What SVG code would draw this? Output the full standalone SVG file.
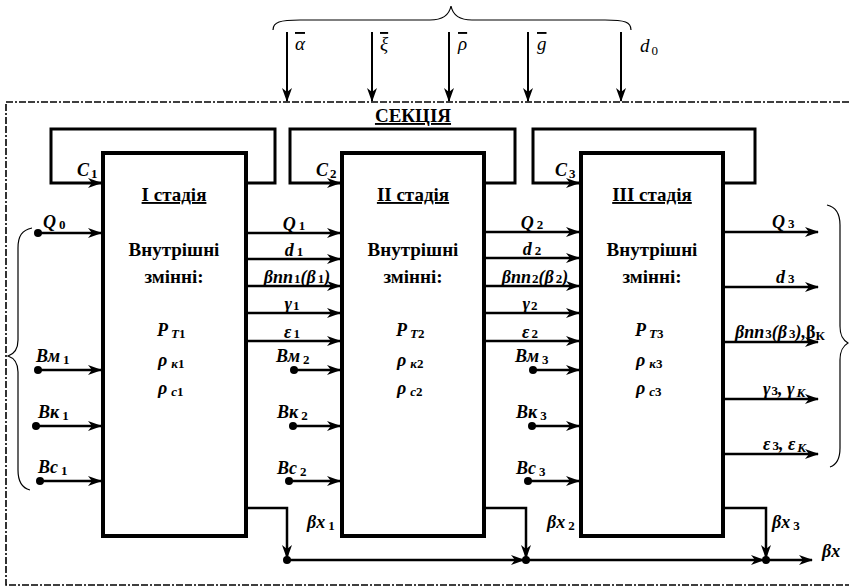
<svg xmlns="http://www.w3.org/2000/svg" width="849" height="587" viewBox="0 0 849 587" font-family="'Liberation Serif', 'DejaVu Serif', serif">
<style>
.b{font-family:'Liberation Serif','DejaVu Serif',serif;font-weight:bold;font-size:19px}
.bi{font-family:'Liberation Serif','DejaVu Serif',serif;font-weight:bold;font-style:italic;font-size:18px}
.it{font-family:'Liberation Serif','DejaVu Serif',serif;font-style:italic;font-size:19px}
.u{text-decoration:underline}
.ov{text-decoration:overline}
.s{font-size:13px}
.n{font-style:normal}
.box{fill:#fff;stroke:#000;stroke-width:4}
.ln{fill:none;stroke:#000;stroke-width:2.5}
.lp{fill:none;stroke:#000;stroke-width:3}
.thin{fill:none;stroke:#000;stroke-width:1.2}
.ar{fill:none;stroke:#000;stroke-width:2.5;marker-end:url(#ah)}
.ar2{fill:none;stroke:#000;stroke-width:2;marker-end:url(#ah)}
.dash{fill:none;stroke:#000;stroke-width:1.6;stroke-dasharray:7,2,7,2,2,2}
</style>
<defs>
<marker id="ah" viewBox="0 0 14 10" refX="13" refY="5" markerWidth="14" markerHeight="10" markerUnits="userSpaceOnUse" orient="auto"><path d="M0,0 L14,5 L0,10 L4,5 z" fill="#000"/></marker>
</defs>

<path class="dash" d="M849,102 H6 V585 H849"/>
<text class="b u" x="413" y="122" text-anchor="middle">СЕКЦІЯ</text>

<path class="thin" d="M273,30 C273,22 280,20 300,20 L430,20 C442,20 449,16 451,6 C453,16 460,20 472,20 L605,20 C625,20 631,22 631,30"/>

<g id="connectors">
  <line class="ar2" x1="287" y1="32" x2="287" y2="101"/>
  <line class="ar2" x1="372" y1="32" x2="372" y2="101"/>
  <line class="ar2" x1="449" y1="32" x2="449" y2="101"/>
  <line class="ar2" x1="528" y1="32" x2="528" y2="101"/>
  <line class="ar2" x1="621" y1="32" x2="621" y2="101"/>
  <path class="lp" d="M246,183 H275 V129 H51 V183 H101" marker-end="url(#ah)"/>
  <path class="lp" d="M484,183 H515 V129 H290 V183 H340" marker-end="url(#ah)"/>
  <path class="lp" d="M723,183 H755 V129 H533 V183 H579" marker-end="url(#ah)"/>
  <line class="ar" x1="38" y1="233" x2="101" y2="233"/>
  <line class="ar" x1="38" y1="370" x2="101" y2="370"/>
  <line class="ar" x1="36" y1="426" x2="101" y2="426"/>
  <line class="ar" x1="40" y1="481" x2="101" y2="481"/>
  <circle cx="38" cy="233" r="4"/>
  <circle cx="38" cy="370" r="4"/>
  <circle cx="36" cy="426" r="4"/>
  <circle cx="40" cy="481" r="4"/>
  <line class="ar" x1="246" y1="233" x2="340" y2="233"/>
  <line class="ar" x1="246" y1="259" x2="340" y2="259"/>
  <line class="ar" x1="246" y1="286" x2="340" y2="286"/>
  <line class="ar" x1="246" y1="313" x2="340" y2="313"/>
  <line class="ar" x1="246" y1="341" x2="340" y2="341"/>
  <line class="ar" x1="294" y1="370" x2="340" y2="370"/>
  <line class="ar" x1="293" y1="426" x2="340" y2="426"/>
  <line class="ar" x1="289" y1="481" x2="340" y2="481"/>
  <circle cx="294" cy="370" r="4"/>
  <circle cx="293" cy="426" r="4"/>
  <circle cx="289" cy="481" r="4"/>
  <line class="ar" x1="484" y1="232" x2="579" y2="232"/>
  <line class="ar" x1="484" y1="258" x2="579" y2="258"/>
  <line class="ar" x1="484" y1="286" x2="579" y2="286"/>
  <line class="ar" x1="484" y1="313" x2="579" y2="313"/>
  <line class="ar" x1="484" y1="341" x2="579" y2="341"/>
  <line class="ar" x1="533" y1="370" x2="579" y2="370"/>
  <line class="ar" x1="532" y1="426" x2="579" y2="426"/>
  <line class="ar" x1="528" y1="481" x2="579" y2="481"/>
  <circle cx="533" cy="370" r="4"/>
  <circle cx="532" cy="426" r="4"/>
  <circle cx="528" cy="481" r="4"/>
  <line class="ar" x1="723" y1="232" x2="818" y2="232"/>
  <line class="ar" x1="723" y1="287" x2="818" y2="287"/>
  <line class="ar" x1="723" y1="342" x2="818" y2="342"/>
  <line class="ar" x1="723" y1="399" x2="818" y2="399"/>
  <line class="ar" x1="723" y1="454" x2="818" y2="454"/>
  <path class="ln" d="M243,508 H287 V558" marker-end="url(#ah)"/>
  <path class="ln" d="M482,508 H526 V558" marker-end="url(#ah)"/>
  <path class="ln" d="M721,508 H766 V558" marker-end="url(#ah)"/>
  <line class="ar" x1="287" y1="560" x2="524" y2="560"/>
  <line class="ar" x1="526" y1="560" x2="764" y2="560"/>
  <line class="ar" x1="766" y1="560" x2="812" y2="560"/>
  <circle cx="287" cy="560" r="4"/>
  <circle cx="526" cy="560" r="4"/>
  <circle cx="766" cy="560" r="4"/>
  <path class="thin" d="M32,228 C22,230 18,236 18,248 L18,340 C18,350 14,354 8,356 C14,358 18,362 18,372 L18,470 C18,482 22,488 30,490"/>
  <path class="thin" d="M827,205 C836,207 840,213 840,225 L840,326 C840,336 843,340 848,343 C843,346 840,350 840,360 L840,448 C840,460 836,465 830,467"/>
</g>

<text class="it" x="295" y="50"><tspan class="ov">α</tspan></text>
<text class="it" x="380" y="50"><tspan class="ov">ξ</tspan></text>
<text class="it" x="458" y="50"><tspan class="ov">ρ</tspan></text>
<text class="it" x="537" y="50"><tspan class="ov">g</tspan></text>
<text class="it" x="640" y="52">d<tspan class="s n" dx="2" dy="3">0</tspan></text>

<g id="stage1">
  <rect class="box" x="103" y="153" width="143" height="383"/>
  <text class="b u" x="174" y="201" text-anchor="middle">І стадія</text>
  <text class="b" x="174" y="256" text-anchor="middle">Внутрішні</text>
  <text class="b" x="174" y="283" text-anchor="middle">змінні:</text>
  <text class="bi" x="157" y="336">P<tspan class="s" dx="3" dy="2">T</tspan><tspan class="s n">1</tspan></text>
  <text class="bi" x="158" y="366">ρ<tspan class="s" dx="4" dy="2">к</tspan><tspan class="s n">1</tspan></text>
  <text class="bi" x="158" y="394">ρ<tspan class="s" dx="4" dy="2">с</tspan><tspan class="s n">1</tspan></text>
</g>
<g id="stage2">
  <rect class="box" x="342" y="153" width="142" height="383"/>
  <text class="b u" x="413" y="201" text-anchor="middle">ІІ стадія</text>
  <text class="b" x="413" y="256" text-anchor="middle">Внутрішні</text>
  <text class="b" x="413" y="283" text-anchor="middle">змінні:</text>
  <text class="bi" x="396" y="336">P<tspan class="s" dx="3" dy="2">T</tspan><tspan class="s n">2</tspan></text>
  <text class="bi" x="397" y="366">ρ<tspan class="s" dx="4" dy="2">к</tspan><tspan class="s n">2</tspan></text>
  <text class="bi" x="397" y="394">ρ<tspan class="s" dx="4" dy="2">с</tspan><tspan class="s n">2</tspan></text>
</g>
<g id="stage3">
  <rect class="box" x="581" y="153" width="142" height="383"/>
  <text class="b u" x="652" y="201" text-anchor="middle">ІІІ стадія</text>
  <text class="b" x="652" y="256" text-anchor="middle">Внутрішні</text>
  <text class="b" x="652" y="283" text-anchor="middle">змінні:</text>
  <text class="bi" x="635" y="336">P<tspan class="s" dx="3" dy="2">T</tspan><tspan class="s n">3</tspan></text>
  <text class="bi" x="636" y="366">ρ<tspan class="s" dx="4" dy="2">к</tspan><tspan class="s n">3</tspan></text>
  <text class="bi" x="636" y="394">ρ<tspan class="s" dx="4" dy="2">с</tspan><tspan class="s n">3</tspan></text>
</g>

<g id="labels">
  <text class="bi" x="77" y="176">C<tspan class="s n" dx="2" dy="2">1</tspan></text>
  <text class="bi" x="316" y="176">C<tspan class="s n" dx="2" dy="2">2</tspan></text>
  <text class="bi" x="555" y="176">C<tspan class="s n" dx="2" dy="2">3</tspan></text>

  <text class="bi" x="43" y="228">Q<tspan class="s n" dx="3" dy="1">0</tspan></text>
  <text class="bi" x="36" y="362">Вм<tspan class="s n" dx="3" dy="2">1</tspan></text>
  <text class="bi" x="38" y="418">Вк<tspan class="s n" dx="3" dy="2">1</tspan></text>
  <text class="bi" x="38" y="473">Вс<tspan class="s n" dx="3" dy="2">1</tspan></text>

  <text class="bi" x="294" y="230" text-anchor="middle">Q<tspan class="s n" dx="3">1</tspan></text>
  <text class="bi" x="294" y="256" text-anchor="middle">d<tspan class="s n" dx="3">1</tspan></text>
  <text class="bi" x="297" y="283" text-anchor="middle">βnn<tspan class="s n" dx="1">1</tspan>(β<tspan class="s n" dx="2">1</tspan>)</text>
  <text class="bi" x="292" y="310" text-anchor="middle">γ<tspan class="s n" dx="1">1</tspan></text>
  <text class="bi" x="292" y="338" text-anchor="middle">ε<tspan class="s n" dx="2">1</tspan></text>
  <text class="bi" x="276" y="362">Вм<tspan class="s n" dx="3" dy="2">2</tspan></text>
  <text class="bi" x="277" y="418">Вк<tspan class="s n" dx="3" dy="2">2</tspan></text>
  <text class="bi" x="277" y="474">Вс<tspan class="s n" dx="3" dy="2">2</tspan></text>
  <text class="bi" x="307" y="528">βx<tspan class="s n" dx="3" dy="2">1</tspan></text>

  <text class="bi" x="532" y="229" text-anchor="middle">Q<tspan class="s n" dx="3">2</tspan></text>
  <text class="bi" x="532" y="255" text-anchor="middle">d<tspan class="s n" dx="3">2</tspan></text>
  <text class="bi" x="535" y="283" text-anchor="middle">βnn<tspan class="s n" dx="1">2</tspan>(β<tspan class="s n" dx="2">2</tspan>)</text>
  <text class="bi" x="530" y="310" text-anchor="middle">γ<tspan class="s n" dx="1">2</tspan></text>
  <text class="bi" x="530" y="338" text-anchor="middle">ε<tspan class="s n" dx="2">2</tspan></text>
  <text class="bi" x="515" y="362">Вм<tspan class="s n" dx="3" dy="2">3</tspan></text>
  <text class="bi" x="516" y="418">Вк<tspan class="s n" dx="3" dy="2">3</tspan></text>
  <text class="bi" x="516" y="474">Вс<tspan class="s n" dx="3" dy="2">3</tspan></text>
  <text class="bi" x="547" y="528">βx<tspan class="s n" dx="3" dy="2">2</tspan></text>

  <text class="bi" x="772" y="228">Q<tspan class="s n" dx="3">3</tspan></text>
  <text class="bi" x="776" y="283">d<tspan class="s n" dx="3">3</tspan></text>
  <text class="bi" x="735" y="338">βnn<tspan class="s n" dx="1">3</tspan>(β<tspan class="s n" dx="2">3</tspan>),<tspan class="n">β</tspan><tspan class="s n" dy="2">К</tspan></text>
  <text class="bi" x="763" y="395">γ<tspan class="s n" dx="1">3</tspan>, γ<tspan class="s" dx="2" dy="2">К</tspan></text>
  <text class="bi" x="763" y="450">ε<tspan class="s n" dx="2">3</tspan>, ε<tspan class="s" dx="2" dy="2">К</tspan></text>
  <text class="bi" x="772" y="528">βx<tspan class="s n" dx="3" dy="2">3</tspan></text>
  <text class="bi" x="822" y="557">βx</text>
</g>
</svg>
